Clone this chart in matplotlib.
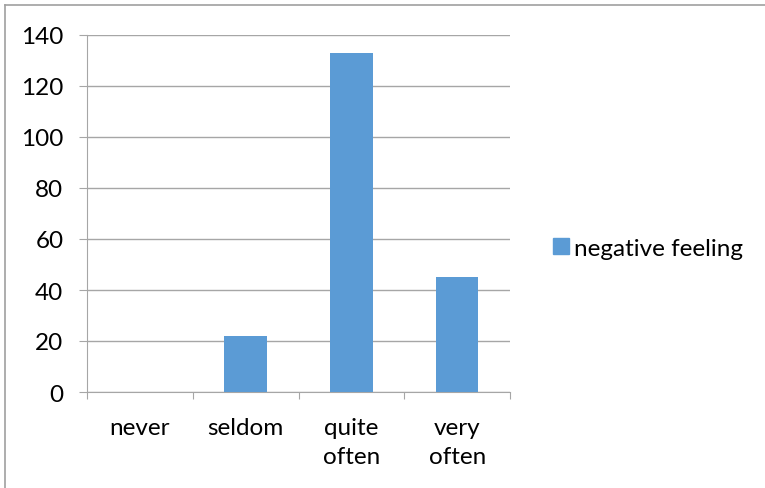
import matplotlib.pyplot as plt
from matplotlib.lines import Line2D
import numpy as np

categories = ["never", "seldom", "quite\noften", "very\noften"]
values = [0, 22, 133, 45]
series_name = "negative feeling"
y_ticks = [0, 20, 40, 60, 80, 100, 120, 140]

bar_color = "#5B9BD5"
grid_color = "#A6A6A6"

plt.rcParams['font.family'] = ['Lato', 'DejaVu Sans']

W, H = 765, 489
fig = plt.figure(figsize=(W / 100, H / 100), dpi=100)
ax = fig.add_axes([87 / W, 1 - 393 / H, (510 - 87) / W, (393 - 36) / H])

x = np.arange(len(categories))
ax.bar(x, values, width=0.4, color=bar_color, zorder=3, label=series_name)

ax.set_xlim(-0.5, len(categories) - 0.5)
ax.set_ylim(0, 140)
ax.set_yticks(y_ticks)
ax.set_yticklabels([str(v) for v in y_ticks], fontsize=17.5)
ax.yaxis.grid(True, color=grid_color, linewidth=1, zorder=0)

# category labels sit between the tick marks
ax.set_xticks(np.arange(len(categories) + 1) - 0.5)
ax.set_xticklabels([])
ax.set_xticks(x, minor=True)
ax.set_xticklabels(categories, minor=True, fontsize=17.5, linespacing=1.45)
ax.tick_params(axis='x', which='minor', length=0, pad=18)
ax.tick_params(axis='x', which='major', length=5, color=grid_color)
ax.tick_params(axis='y', length=6, color=grid_color, pad=11)

for side in ['top', 'right']:
    ax.spines[side].set_visible(False)
ax.spines['left'].set_color(grid_color)
ax.spines['bottom'].set_color(grid_color)

handle = Line2D([], [], marker='s', linestyle='none', markersize=11,
                markerfacecolor=bar_color, markeredgecolor=bar_color)
fig.legend([handle], [series_name], loc='center left',
           bbox_to_anchor=(527 / W, 1 - 249 / H), frameon=False,
           fontsize=17.5, handletextpad=0.05, handlelength=1.0)

# outer chart border (only left and top edges show)
fig.add_artist(Line2D([5 / W, 5 / W], [0, 1 - 6 / H], color="#A0A0A0", lw=1.2))
fig.add_artist(Line2D([5 / W, 1], [1 - 6 / H, 1 - 6 / H], color="#A0A0A0", lw=1.2))

fig.savefig("out.png", dpi=100)
